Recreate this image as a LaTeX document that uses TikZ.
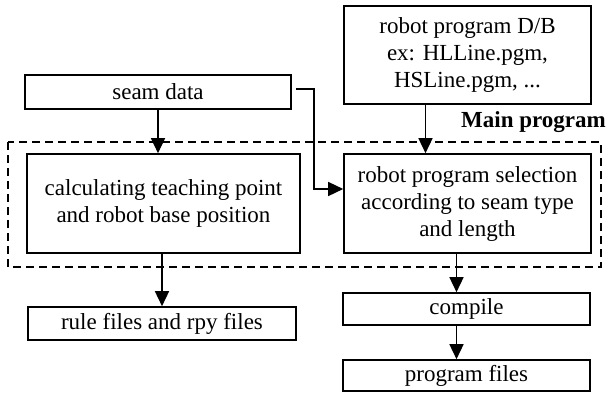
\documentclass[tikz,border=0pt]{standalone}
\usepackage{fontspec}
\setmainfont{Liberation Serif}
\usetikzlibrary{arrows.meta}
\begin{document}
\begin{tikzpicture}[x=1pt,y=-1pt,
    box/.style={draw,line width=1.6pt,inner sep=0pt,align=center,font=\fontsize{23}{27}\selectfont},
    arr/.style={line width=1.5pt,-{Triangle[length=15pt,width=14pt]}}]
      \useasboundingbox (0,0) rectangle (606,394);
      \node[box,minimum width=247pt,minimum height=98pt] (db) at (467.5,55) {robot program D/B\\ex: HLLine.pgm,\\HSLine.pgm, ...};
      \node[box,minimum width=266pt,minimum height=34pt] (seam) at (158,92) {seam data};
      \node[box,minimum width=273pt,minimum height=99pt] (calc) at (163.5,203.5) {calculating teaching point\\and robot base position};
      \node[box,minimum width=247pt,minimum height=99pt] (sel) at (467.5,203.5) {robot program selection\\according to seam type\\and length};
      \node[box,minimum width=268pt,minimum height=33pt] (rule) at (162,323.5) {rule files and rpy files};
      \node[box,minimum width=247pt,minimum height=32pt] (comp) at (466.5,309) {compile};
      \node[box,minimum width=247pt,minimum height=31pt] (prog) at (466.5,375.5) {program files};
      \draw[line width=1.4pt,dash pattern=on 8pt off 5pt] (8,142) rectangle (601,267);
      \node[anchor=base east,inner sep=0pt,font=\fontsize{23}{27}\selectfont\bfseries] (main) at (606,127) {Main program};
      \draw[arr] (seam.south) -- (seam.south |- calc.north);
      \draw[arr] ([xshift=4pt,yshift=3pt]seam.east) -- ++(18,0) |- ([yshift=14.5pt]sel.west);
      \draw[arr] ([xshift=-42pt]db.south) -- ([xshift=-42pt]db.south |- sel.north);
      \draw[arr] (rule.north |- calc.south) -- (rule.north);
      \draw[arr] ([xshift=-10pt]comp.north |- sel.south) -- ([xshift=-10pt]comp.north);
      \draw[arr] ([xshift=-10pt]comp.south) -- ([xshift=-10pt]prog.north);
    \end{tikzpicture}
\end{document}
